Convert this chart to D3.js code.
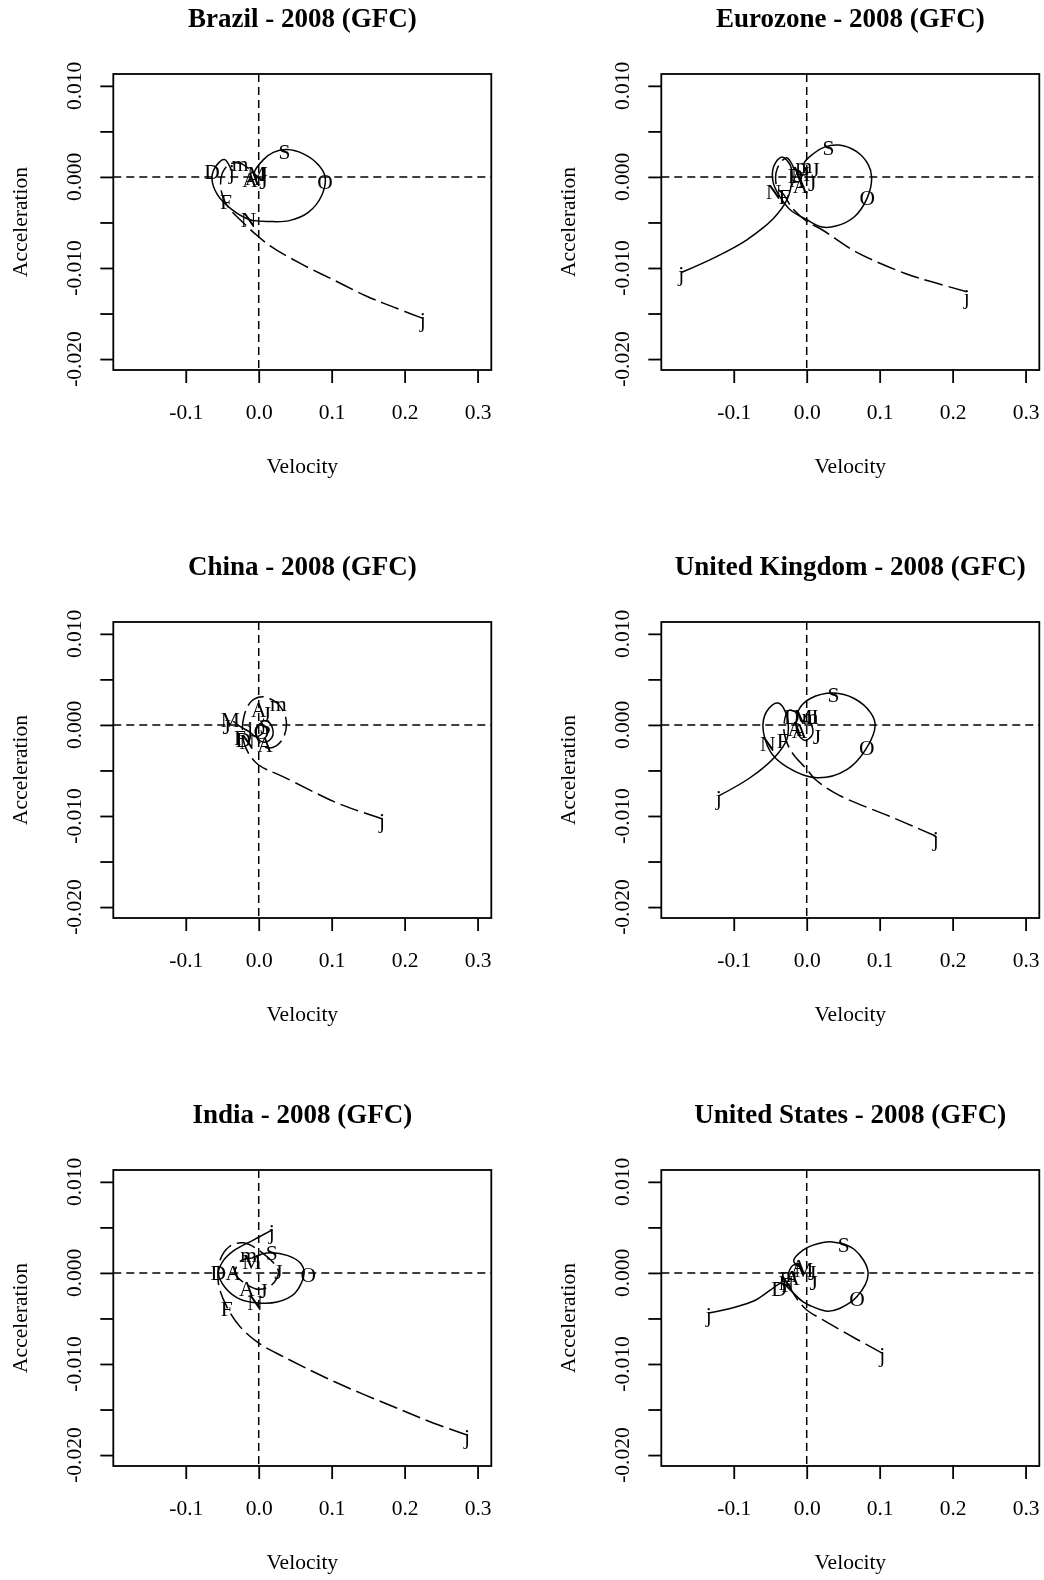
<!DOCTYPE html>
<html>
<head>
<meta charset="utf-8">
<script src="https://cdn.jsdelivr.net/npm/d3@7"></script>
<style>
  body { margin: 0; background: #fff; }
  svg { will-change: transform; }
  text { font-family: "Liberation Serif", "Times New Roman", serif; fill: #000; -webkit-font-smoothing: antialiased; }
</style>
</head>
<body>
<script>
// panel titles, in page order (left to right, top to bottom)
var titles = ["Brazil - 2008 (GFC)", "Eurozone - 2008 (GFC)", "China - 2008 (GFC)",
  "United Kingdom - 2008 (GFC)", "India - 2008 (GFC)", "United States - 2008 (GFC)"];

var xTicks = [-0.1, 0, 0.1, 0.2, 0.3];
var yTicks = [0.01, 0.005, 0, -0.005, -0.01, -0.015, -0.02];
var yLabelTicks = [0.01, 0, -0.01, -0.02];

// [velocity, acceleration] along the curve; dashed = first half of year, solid = second half
var brazilDash = [[0.224,-0.0155],[0.185,-0.0143],[0.148,-0.0131],[0.1025,-0.0113],[0.057,-0.0095],[0.011,-0.0073],[-0.0255,-0.0047],[-0.039,-0.0036],[-0.047,-0.0026],[-0.052,-0.0012],[-0.05,0.0004],[-0.04,0.0014],[-0.0255,0.0015],[-0.012,0.0008],[-0.004,0.0002],[0.004,-0.0003]];
var brazilSolid = [[0.004,-0.0003],[-0.006,0.0004],[0.0065,0.0019],[0.02,0.0027],[0.0385,0.003],[0.062,0.0025],[0.082,0.0013],[0.091,0.0],[0.086,-0.0021],[0.068,-0.0039],[0.042,-0.0048],[0.0156,-0.0049],[-0.0118,-0.0047],[-0.038,-0.0035],[-0.057,-0.0019],[-0.064,0.0],[-0.0575,0.0013],[-0.047,0.0019],[-0.040,0.0012],[-0.037,0.0006]];
var brazilMonths = [["j",0.225,-0.0157],["F",-0.0447,-0.0027],["m",-0.0255,0.0015],["A",-0.0118,-0.0003],["M",-0.0026,0.0004],["J",0.0065,0.0004],["J",0.0065,-0.0005],["A",-0.008,-0.0001],["S",0.0353,0.0028],["O",0.091,-0.0005],["N",-0.014,-0.0047],["D",-0.064,0.0006],["j",-0.037,0.0006]];

var euroDash = [[0.2194,-0.0126],[0.175,-0.0116],[0.135,-0.0106],[0.0668,-0.0082],[0.0211,-0.0058],[0.0005,-0.0049],[-0.020,-0.0034],[-0.031,-0.0020],[-0.041,-0.0011],[-0.040,0.0010],[-0.0273,0.0021],[-0.0159,0.0008],[-0.008,0.0002],[0.002,0.0004]];
var euroSolid = [[0.002,0.0004],[-0.004,0.0014],[0.01,0.0026],[0.025,0.0033],[0.044,0.0035],[0.068,0.0028],[0.084,0.0014],[0.089,0.0],[0.083,-0.0023],[0.065,-0.0044],[0.04,-0.0054],[0.021,-0.0055],[0.0,-0.0047],[-0.0228,-0.0036],[-0.0365,-0.0022],[-0.046,-0.0006],[-0.045,0.0012],[-0.034,0.0022],[-0.022,0.0012],[-0.0205,-0.0005],[-0.027,-0.0025],[-0.045,-0.0045],[-0.082,-0.0069],[-0.125,-0.0088],[-0.172,-0.0105]];
var euroMonths = [["j",0.2194,-0.0131],["F",-0.0305,-0.0022],["m",-0.004,0.0013],["A",-0.013,-0.0003],["M",-0.0085,0.0004],["J",0.012,0.0008],["J",0.0074,-0.0007],["A",-0.0085,-0.0009],["S",0.030,0.0032],["O",0.083,-0.0023],["N",-0.045,-0.0016],["D",-0.0155,0.0002],["j",-0.172,-0.0106]];

var chinaDash = [[0.169,-0.0103],[0.135,-0.0094],[0.1025,-0.0084],[0.0339,-0.0057],[0.0,-0.0044],[-0.0141,-0.0031],[-0.022,-0.0013],[-0.020,0.0010],[-0.010,0.0026],[0.005,0.0031],[0.025,0.0024],[0.037,0.0008],[0.035,-0.0012],[0.024,-0.0023],[0.011,-0.0025],[0.0,-0.0018],[-0.004,-0.0006],[0.002,0.0004]];
var chinaSolid = [[0.002,0.0004],[0.012,0.0004],[0.019,-0.0004],[0.018,-0.0014],[0.008,-0.0019],[-0.002,-0.0014],[-0.004,-0.0004],[0.004,0.0002],[0.006,-0.0008],[-0.004,-0.0013],[-0.012,-0.0008],[-0.025,-0.0002],[-0.035,0.0004]];
var chinaMonths = [["j",0.169,-0.0105],["F",-0.0255,-0.0014],["m",0.027,0.0024],["A",0.0,0.0017],["M",-0.039,0.0006],["J",0.011,0.0013],["J",-0.044,-0.0002],["A",0.0088,-0.0022],["S",0.0088,-0.0002],["O",0.004,-0.0007],["N",-0.016,-0.0018],["D",-0.021,-0.0016],["j",-0.012,-0.0004]];

var ukDash = [[0.1767,-0.0122],[0.145,-0.0111],[0.1126,-0.0100],[0.044,-0.0077],[0.0119,-0.0060],[0.0005,-0.0049],[-0.0177,-0.0033],[-0.0268,-0.0020],[-0.0314,-0.0002],[-0.0245,0.0016],[-0.012,0.0012],[-0.008,0.0004]];
var ukSolid = [[-0.008,0.0004],[0.005,0.0002],[0.008,-0.001],[-0.002,-0.0017],[-0.012,-0.001],[-0.014,0.0006],[-0.01,0.0018],[0.005,0.0029],[0.0366,0.0035],[0.065,0.0029],[0.088,0.0013],[0.0938,0.0],[0.0824,-0.0025],[0.055,-0.0049],[0.0139,-0.0058],[-0.0273,-0.0046],[-0.050,-0.0029],[-0.060,0.0],[-0.052,0.0018],[-0.0388,0.0024],[-0.028,0.0012],[-0.0251,-0.0004],[-0.0273,-0.0016],[-0.0434,-0.0035],[-0.0777,-0.0058],[-0.1207,-0.0078]];
var ukMonths = [["j",0.1767,-0.0125],["F",-0.033,-0.0017],["m",0.0047,0.0009],["A",-0.0158,-0.0004],["M",-0.005,0.0009],["J",0.010,0.0009],["J",0.0139,-0.0013],["A",-0.010,-0.0006],["S",0.0366,0.0033],["O",0.0824,-0.0025],["N",-0.0535,-0.002],["D",-0.0204,0.0009],["j",-0.1207,-0.0080]];

var indiaDash = [[0.2855,-0.0178],[0.24,-0.0165],[0.194,-0.0150],[0.1025,-0.0119],[0.0339,-0.0092],[0.0,-0.0077],[-0.0255,-0.0059],[-0.0438,-0.0037],[-0.0553,-0.0011],[-0.053,0.0014],[-0.040,0.0029],[-0.021,0.0033],[0.005,0.0022],[0.027,0.0002],[0.018,-0.0013],[0.0,-0.0018],[-0.02,-0.0011],[-0.0324,0.0],[-0.025,0.0013],[-0.010,0.0016]];
var indiaSolid = [[-0.010,0.0016],[0.011,0.0022],[0.04,0.0019],[0.058,0.0010],[0.0623,0.0],[0.05,-0.0022],[0.025,-0.0032],[0.0,-0.0033],[-0.025,-0.0029],[-0.045,-0.0017],[-0.0553,0.0],[-0.048,0.0014],[-0.035,0.0024],[-0.01,0.0035],[0.018,0.0047]];
var indiaMonths = [["j",0.2855,-0.0180],["F",-0.0438,-0.0039],["m",-0.014,0.0020],["A",-0.0347,0.0],["M",-0.0095,0.0013],["J",0.027,0.0002],["J",0.0065,-0.0019],["A",-0.0163,-0.0017],["S",0.018,0.0022],["O",0.068,-0.0002],["N",-0.005,-0.0033],["D",-0.0553,0.0],["j",0.018,0.0045]];

var usDash = [[0.1034,-0.0088],[0.0668,-0.0072],[0.0211,-0.0051],[0.0005,-0.0041],[-0.0155,-0.0026],[-0.0247,-0.0011],[-0.024,0.0002],[-0.017,0.0009],[-0.008,0.0006]];
var usSolid = [[-0.008,0.0006],[-0.0178,0.0013],[-0.005,0.0025],[0.015,0.0032],[0.0349,0.0034],[0.065,0.0026],[0.0842,0.0],[0.069,-0.0026],[0.045,-0.0039],[0.028,-0.0042],[0.005,-0.0036],[-0.0063,-0.0031],[-0.0247,-0.0017],[-0.0338,-0.0011],[-0.05,-0.0019],[-0.0704,-0.0030],[-0.10,-0.0038],[-0.1343,-0.0044]];
var usMonths = [["j",0.1034,-0.0090],["F",-0.027,-0.0013],["m",-0.0247,-0.0002],["A",-0.0108,0.0007],["M",-0.004,0.0004],["J",0.0074,0.0],["J",0.0097,-0.0011],["A",-0.02,-0.0005],["S",0.0509,0.0031],["O",0.069,-0.0028],["N",-0.028,-0.0010],["D",-0.038,-0.0017],["j",-0.1343,-0.0046]];

var dashes = [brazilDash, euroDash, chinaDash, ukDash, indiaDash, usDash];
var solids = [brazilSolid, euroSolid, chinaSolid, ukSolid, indiaSolid, usSolid];
var months = [brazilMonths, euroMonths, chinaMonths, ukMonths, indiaMonths, usMonths];

var width = 1044, height = 1580;
var cell = 548;
var box = {left: 113.3, right: 491.3, top: 74, bottom: 370};

var svg = d3.select("body").append("svg")
    .attr("width", width)
    .attr("height", height);

var x = d3.scaleLinear().domain([-0.1993, 0.3188]).range([box.left, box.right]);
var y = d3.scaleLinear().domain([-0.0212, 0.0113]).range([box.bottom, box.top]);

var line = d3.line()
    .x(function(d) { return x(d[0]); })
    .y(function(d) { return y(d[1]); })
    .curve(d3.curveCatmullRom.alpha(0.5));

titles.forEach(function(title, i) {
  var col = i % 2, row = Math.floor(i / 2);
  var g = svg.append("g")
      .attr("transform", "translate(" + (col * cell) + "," + (row * cell) + ")");

  g.append("text")
      .attr("x", (box.left + box.right) / 2)
      .attr("y", 27)
      .attr("text-anchor", "middle")
      .attr("font-size", "27px")
      .attr("font-weight", "bold")
      .text(title);

  // axes
  var bottomAxis = d3.axisBottom(x).tickValues(xTicks).tickSize(13).tickPadding(21)
      .tickFormat(function(d) { return d.toFixed(1); });
  var xg = g.append("g")
      .attr("transform", "translate(0," + box.bottom + ")")
      .call(bottomAxis);
  xg.select(".domain").remove();
  xg.selectAll("line").attr("stroke-width", 1.8);
  xg.selectAll("text").attr("font-size", "21.5px").attr("font-family", "Liberation Serif, serif");

  var leftAxis = d3.axisLeft(y).tickValues(yTicks).tickSize(13).tickFormat("");
  var yg = g.append("g")
      .attr("transform", "translate(" + box.left + ",0)")
      .call(leftAxis);
  yg.select(".domain").remove();
  yg.selectAll("line").attr("stroke-width", 1.8);

  yLabelTicks.forEach(function(t) {
    g.append("text")
        .attr("transform", "translate(81," + y(t) + ") rotate(-90)")
        .attr("text-anchor", "middle")
        .attr("font-size", "21.5px")
        .text(t.toFixed(3));
  });

  g.append("text")
      .attr("x", (box.left + box.right) / 2)
      .attr("y", 473)
      .attr("text-anchor", "middle")
      .attr("font-size", "21.5px")
      .text("Velocity");

  g.append("text")
      .attr("transform", "translate(27," + ((box.top + box.bottom) / 2) + ") rotate(-90)")
      .attr("text-anchor", "middle")
      .attr("font-size", "21.5px")
      .text("Acceleration");

  // zero reference lines
  g.append("line")
      .attr("x1", box.left).attr("x2", box.right)
      .attr("y1", y(0)).attr("y2", y(0))
      .attr("stroke", "#000").attr("stroke-width", 1.5)
      .attr("stroke-dasharray", "8,5");
  g.append("line")
      .attr("x1", x(0)).attr("x2", x(0))
      .attr("y1", box.top).attr("y2", box.bottom)
      .attr("stroke", "#000").attr("stroke-width", 1.5)
      .attr("stroke-dasharray", "8,5");

  // trajectory
  g.append("path")
      .attr("d", line(dashes[i]))
      .attr("fill", "none").attr("stroke", "#000").attr("stroke-width", 1.5)
      .attr("stroke-dasharray", "19,6");
  g.append("path")
      .attr("d", line(solids[i]))
      .attr("fill", "none").attr("stroke", "#000").attr("stroke-width", 1.5);

  g.selectAll("text.month")
      .data(months[i])
      .enter()
      .append("text")
      .attr("class", "month")
      .attr("x", function(d) { return x(d[1]); })
      .attr("y", function(d) { return y(d[2]); })
      .attr("dy", "0.35em")
      .attr("text-anchor", "middle")
      .attr("font-size", "21.5px")
      .text(function(d) { return d[0]; });

  g.append("rect")
      .attr("x", box.left).attr("y", box.top)
      .attr("width", box.right - box.left).attr("height", box.bottom - box.top)
      .attr("fill", "none").attr("stroke", "#000").attr("stroke-width", 1.8);
});
</script>
</body>
</html>
